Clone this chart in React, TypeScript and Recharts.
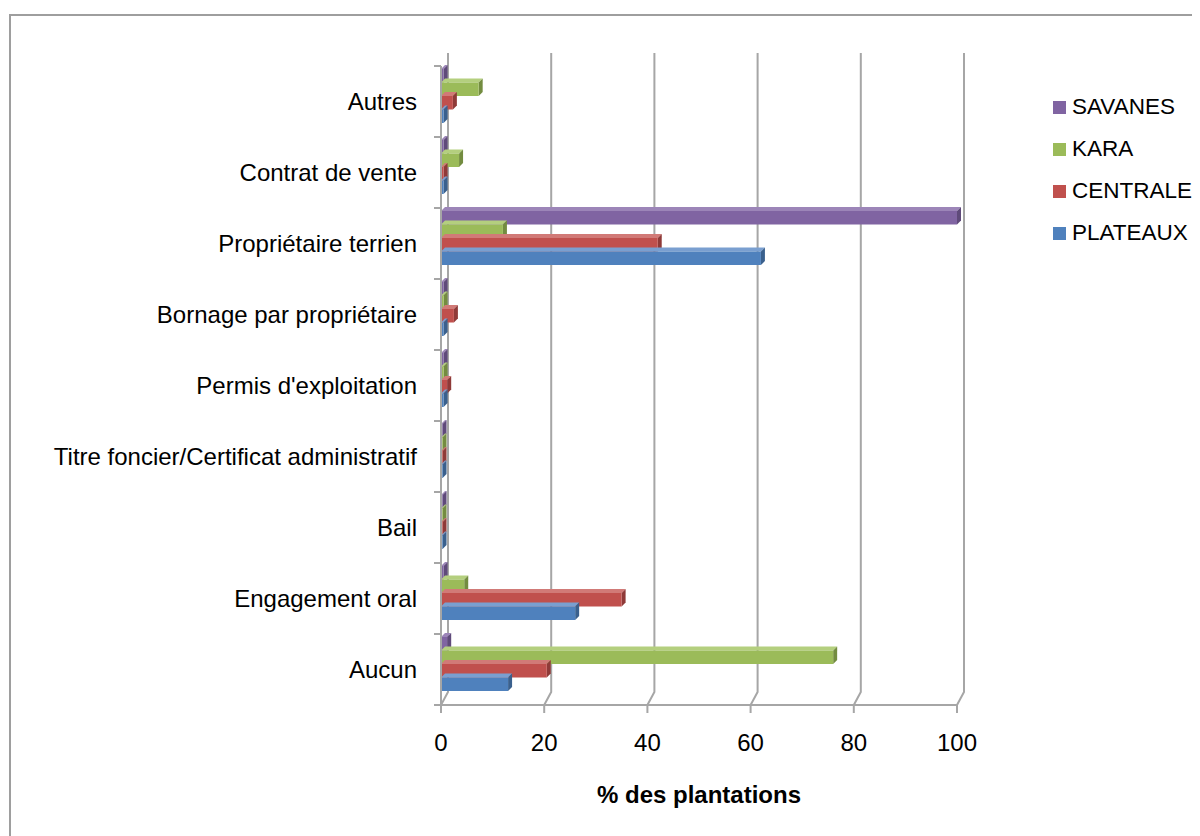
import React from "react";
import { BarChart, Bar, XAxis, YAxis, CartesianGrid, Legend } from "recharts";

const CATEGORIES = [
  "Autres",
  "Contrat de vente",
  "Propriétaire terrien",
  "Bornage par propriétaire",
  "Permis d'exploitation",
  "Titre foncier/Certificat administratif",
  "Bail",
  "Engagement oral",
  "Aucun",
];
const SAVANES = [0.5, 0.5, 100, 0.5, 0.5, 0.3, 0.3, 0.5, 1.2];
const KARA = [7.3, 3.5, 12, 0.5, 0.5, 0.3, 0.3, 4.5, 76];
const CENTRALE = [2.3, 0.5, 42, 2.5, 1.2, 0.3, 0.3, 35, 20.5];
const PLATEAUX = [0.5, 0.5, 62, 0.5, 0.5, 0.3, 0.3, 26, 13];
const X_TICKS = [0, 20, 40, 60, 80, 100];

const SERIES = [
  { key: "SAVANES", fill: "#8064A2", top: "#9c85b8", side: "#5f4a7a" },
  { key: "KARA", fill: "#9BBB59", top: "#b4cf7e", side: "#738c40" },
  { key: "CENTRALE", fill: "#C0504D", top: "#d17a77", side: "#8f3a38" },
  { key: "PLATEAUX", fill: "#4F81BD", top: "#7a9fd0", side: "#3a608d" },
];

const data = CATEGORIES.map((name, i) => ({
  name,
  SAVANES: SAVANES[i],
  KARA: KARA[i],
  CENTRALE: CENTRALE[i],
  PLATEAUX: PLATEAUX[i],
}));

const FONT = "'Liberation Sans', Arial, sans-serif";
const FS = 24;
const GRID = "#a6a6a6";
const DEPTH = 4;
const LIFT = 6;
const WALL_DX = 7;
const WALL_DY = 13;

function Bar3D(props: any) {
  const { x, y, width, height, fill, top, side } = props;
  if (x == null || !height) return null;
  const w = Math.max(width, 1);
  const yy = y - LIFT;
  return (
    <g>
      <path
        d={`M${x},${yy} L${x + DEPTH},${yy - DEPTH} L${x + w + DEPTH},${yy - DEPTH} L${x + w},${yy} Z`}
        fill={top}
      />
      <path
        d={`M${x + w},${yy} L${x + w + DEPTH},${yy - DEPTH} L${x + w + DEPTH},${yy + height - DEPTH} L${x + w},${yy + height} Z`}
        fill={side}
      />
      <rect x={x} y={yy} width={w} height={height} fill={fill} />
    </g>
  );
}

function WallLine(props: any) {
  const { x1, y1, y2 } = props;
  return (
    <polyline
      points={`${x1},${y2} ${x1 + WALL_DX},${y2 - WALL_DY} ${x1 + WALL_DX},${y1 - WALL_DY}`}
      fill="none"
      stroke={GRID}
      strokeWidth={2}
    />
  );
}

function CategoryTick(props: any) {
  const { x, y, payload, index } = props;
  const axisX = x + 7 + 17;
  const half = payload.offset || 35.5;
  return (
    <g>
      <line x1={axisX - 7} x2={axisX} y1={y - half} y2={y - half} stroke={GRID} strokeWidth={2} />
      {index === CATEGORIES.length - 1 && (
        <line x1={axisX - 7} x2={axisX} y1={y + half} y2={y + half} stroke={GRID} strokeWidth={2} />
      )}
      <text x={x} y={y} dy="0.35em" textAnchor="end" fontSize={FS} fill="#000" fontFamily={FONT}>
        {payload.value}
      </text>
    </g>
  );
}

function LegendBox() {
  return (
    <div style={{ fontFamily: FONT, fontSize: 22.5, color: "#000" }}>
      {SERIES.map((s) => (
        <div key={s.key} style={{ display: "flex", alignItems: "center", height: 42, whiteSpace: "nowrap" }}>
          <span style={{ width: 13, height: 13, background: s.fill, display: "inline-block", marginRight: 6 }} />
          {s.key}
        </div>
      ))}
    </div>
  );
}

export default function App() {
  return (
    <div style={{ position: "relative", width: 1192, height: 828, overflow: "hidden", background: "#fff" }}>
      <div
        style={{
          position: "absolute",
          left: 1,
          top: 6,
          width: 1400,
          height: 1000,
          border: "2px solid #9e9e9e",
          boxSizing: "border-box",
        }}
      />
      <BarChart
        width={1192}
        height={828}
        data={data}
        layout="vertical"
        margin={{ top: 58, right: 243, left: 20, bottom: 21 }}
        barGap={0}
        barSize={13.5}
        style={{ position: "absolute", left: 0, top: 0 }}
      >
        <CartesianGrid horizontal={false} vertical={WallLine} />
        <XAxis
          type="number"
          domain={[0, 100]}
          ticks={X_TICKS}
          height={110}
          axisLine={{ stroke: GRID, strokeWidth: 2 }}
          tickLine={{ stroke: GRID, strokeWidth: 2 }}
          tickSize={8}
          tickMargin={21}
          tick={{ fontSize: FS, fill: "#000", fontFamily: FONT }}
          label={{
            value: "% des plantations",
            position: "insideBottom",
            offset: 12,
            style: { fontSize: FS, fontWeight: "bold", fill: "#000", fontFamily: FONT },
          }}
        />
        <YAxis
          type="category"
          dataKey="name"
          width={413}
          axisLine={{ stroke: GRID, strokeWidth: 2 }}
          tickLine={false}
          tickSize={7}
          tickMargin={17}
          interval={0}
          tick={<CategoryTick />}
        />
        <Legend
          layout="vertical"
          align="center"
          verticalAlign="middle"
          content={() => <LegendBox />}
          wrapperStyle={{ position: "absolute", left: 1045, top: 78, right: "auto", bottom: "auto", width: 160 }}
        />
        {SERIES.map((s) => (
          <Bar
            key={s.key}
            dataKey={s.key}
            name={s.key}
            fill={s.fill}
            isAnimationActive={false}
            shape={(p: any) => <Bar3D {...p} fill={s.fill} top={s.top} side={s.side} />}
          />
        ))}
      </BarChart>
    </div>
  );
}
